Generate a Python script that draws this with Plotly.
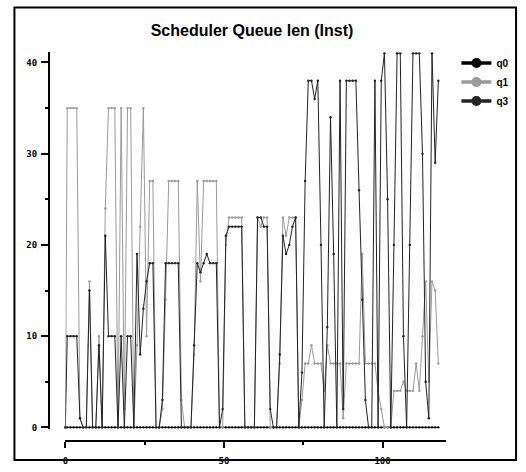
import plotly.graph_objects as go

# ---- data ----
q1 = [0, 35, 35, 35, 35, 1, 0, 0, 16, 0,
      0, 10, 0, 24, 35, 35, 35, 0, 35, 2,
      35, 35, 0, 9, 22, 35, 10, 27, 27, 0,
      0, 2, 14, 27, 27, 27, 27, 3, 0, 0,
      0, 8, 27, 16, 27, 27, 27, 27, 27, 0,
      0, 20, 23, 23, 23, 23, 23, 0, 0, 0,
      0, 23, 22, 23, 23, 0, 0, 0, 7, 23,
      21, 23, 23, 23, 0, 3, 7, 7, 9, 7,
      7, 7, 4, 9, 7, 7, 7, 7, 1, 7,
      7, 7, 7, 7, 19, 7, 7, 7, 7, 4,
      2, 0, 0, 0, 4, 4, 4, 5, 4, 4,
      4, 7, 4, 10, 16, 5, 16, 15, 7]
q3 = [0, 10, 10, 10, 10, 1, 0, 0, 15, 0,
      0, 9, 0, 21, 10, 10, 10, 0, 10, 0,
      10, 10, 0, 19, 8, 13, 16, 18, 18, 0,
      0, 3, 18, 18, 18, 18, 18, 0, 0, 0,
      0, 9, 18, 17, 18, 19, 18, 18, 18, 0,
      2, 21, 22, 22, 22, 22, 22, 0, 0, 0,
      0, 23, 23, 22, 22, 2, 0, 0, 8, 21,
      19, 20, 22, 23, 0, 6, 27, 38, 38, 36,
      38, 20, 0, 11, 34, 19, 0, 38, 2, 38,
      38, 38, 38, 26, 14, 3, 0, 0, 38, 0,
      38, 41, 25, 0, 20, 41, 41, 10, 0, 20,
      41, 41, 41, 30, 5, 1, 41, 29, 38]
q0 = [0, 0, 0, 0, 0, 0, 0, 0, 0, 0,
      0, 0, 0, 0, 0, 0, 0, 0, 0, 0,
      0, 0, 0, 0, 0, 0, 0, 0, 0, 0,
      0, 0, 0, 0, 0, 0, 0, 0, 0, 0,
      0, 0, 0, 0, 0, 0, 0, 0, 0, 0,
      0, 0, 0, 0, 0, 0, 0, 0, 0, 0,
      0, 0, 0, 0, 0, 0, 0, 0, 0, 0,
      0, 0, 0, 0, 0, 0, 0, 0, 0, 0,
      0, 0, 0, 0, 0, 0, 0, 0, 0, 0,
      0, 0, 0, 0, 0, 0, 0, 0, 0, 0,
      0, 0, 0, 0, 0, 0, 0, 0, 0, 0,
      0, 0, 0, 0, 0, 0, 0, 0, 0]
# sample times: first sample at 0, then one per unit
t = [0.0] + [k + 0.6 for k in range(len(q1) - 1)]

names = ["q0", "q1", "q3"]
colors = ["#000000", "#9a9a9a", "#222222"]
series = [q0, q1, q3]

W, H = 526, 472
def px(x): return x / W
def py(y): return 1 - y / H

fig = go.Figure()
for name, col, ys in zip(names, colors, series):
    fig.add_trace(go.Scatter(
        x=t, y=ys, mode="lines+markers", name=name, showlegend=False,
        line=dict(color=col, width=1.0),
        marker=dict(color=col, size=2.4, symbol="circle"),
        cliponaxis=False, hoverinfo="skip"))
# legend entries
for name, col in zip(names, colors):
    fig.add_trace(go.Scatter(
        x=[None], y=[None], mode="lines+markers", name=name,
        line=dict(color=col, width=3.5),
        marker=dict(color=col, size=10)))

x_ppu = 3.19
y_ppu = 9.2
xr = [0, 120]
yr = [-0.15, 41.15]
x0px = 62.7
y0px = 431

tickfont = dict(family="DejaVu Sans Mono", size=9, color="#000", weight="bold")

fig.update_layout(
    width=W, height=H,
    margin=dict(l=0, r=0, t=0, b=0),
    paper_bgcolor="white", plot_bgcolor="white",
    title=dict(text="Scheduler Queue len (Inst)", x=px(252), xanchor="center",
               y=py(30), yanchor="middle",
               font=dict(family="Liberation Sans", size=16, color="#000", weight="bold")),
    xaxis=dict(
        domain=[px(x0px + xr[0] * x_ppu), px(x0px + xr[1] * x_ppu)],
        range=xr, anchor="free", position=py(445),
        showgrid=False, zeroline=False, showline=True, linecolor="#000", linewidth=1.5,
        ticks="outside", ticklen=6, tickwidth=1.5, tickcolor="#000",
        tickmode="linear", tick0=0, dtick=50, tickfont=tickfont, ticklabelstandoff=5,
        minor=dict(ticks="outside", ticklen=3, tickwidth=1.5, tickcolor="#000",
                   tickmode="linear", tick0=0, dtick=25, showgrid=False),
    ),
    yaxis=dict(
        domain=[py(y0px - yr[0] * y_ppu), py(y0px - yr[1] * y_ppu)],
        range=yr, anchor="free", position=px(46),
        showgrid=False, zeroline=False, showline=True, linecolor="#000", linewidth=1.5,
        ticks="outside", ticklen=7, tickwidth=1.5, tickcolor="#000",
        tickmode="linear", tick0=0, dtick=10, tickfont=tickfont, ticklabelstandoff=2,
        minor=dict(ticks="outside", ticklen=3, tickwidth=1.5, tickcolor="#000",
                   tickmode="linear", tick0=0, dtick=5, showgrid=False),
    ),
    legend=dict(x=px(456), y=py(49), xanchor="left", yanchor="top",
                bgcolor="rgba(0,0,0,0)", borderwidth=0,
                font=dict(family="Liberation Sans", size=10, color="#000", weight="bold"),
                itemwidth=30, tracegroupgap=0),
    shapes=[dict(type="rect", xref="paper", yref="paper",
                 x0=px(11.5), x1=px(516), y0=py(464), y1=py(7.5),
                 line=dict(color="#000", width=2), fillcolor="rgba(0,0,0,0)", layer="below")],
)

fig.write_html("out.html")
